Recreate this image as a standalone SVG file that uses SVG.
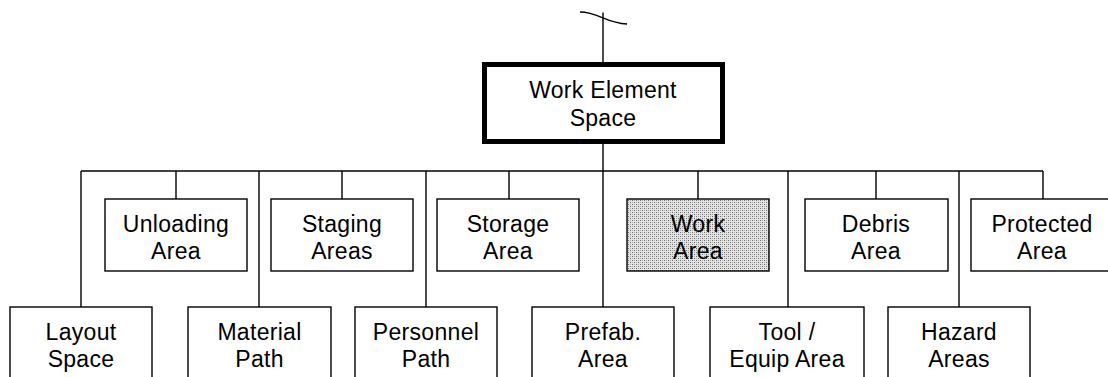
<svg xmlns="http://www.w3.org/2000/svg" width="1108" height="377" viewBox="0 0 1108 377">
  <defs>
    <pattern id="stipple" width="4" height="4" patternUnits="userSpaceOnUse">
      <rect width="4" height="4" fill="#e4e4e4"/>
      <rect x="0" y="0" width="1" height="1" fill="#6a6a6a"/>
      <rect x="2" y="2" width="1" height="1" fill="#6a6a6a"/>
      <rect x="2" y="0" width="1" height="1" fill="#b0b0b0"/>
      <rect x="0" y="2" width="1" height="1" fill="#b0b0b0"/>
    </pattern>
  </defs>
  <style>
    .box { fill: #ffffff; stroke: #000000; stroke-width: 1.4; }
    .root { fill: #ffffff; stroke: #000000; stroke-width: 5; }
    .shaded { fill: url(#stipple); stroke: #000000; stroke-width: 1.4; }
    .wire { fill: none; stroke: #000000; stroke-width: 1.4; }
    text { font-family: "Liberation Sans", Arial, sans-serif; font-size: 23px; fill: #000000; text-anchor: middle; letter-spacing: 0.3px; }
  </style>
  <rect width="1108" height="377" fill="#ffffff"/>

  <!-- connectors -->
  <g id="connectors" class="wire">
    <path d="M580,12 C598,12 606,23 627,24"/>
    <path d="M603,12.5 V62"/>
    <path d="M603,144 V171"/>
    <path d="M81,171 H1043"/>
    <path d="M176,171 V199 M342,171 V199 M509,171 V199 M698,171 V199 M876,171 V199 M1043,171 V199"/>
    <path d="M81,171 V307 M259,171 V307 M426,171 V307 M603,171 V307 M788,171 V307 M959,171 V307"/>
  </g>

  <!-- root -->
  <g id="work-element-space">
    <rect class="root" x="484.5" y="64.5" width="238" height="77"/>
    <text x="603" y="98">Work Element</text>
    <text x="603" y="126">Space</text>
  </g>

  <!-- upper row -->
  <g id="unloading-area">
    <rect class="box" x="105" y="199" width="142" height="72"/>
    <text x="176" y="232">Unloading</text>
    <text x="176" y="259">Area</text>
  </g>
  <g id="staging-areas">
    <rect class="box" x="271" y="199" width="142" height="72"/>
    <text x="342" y="232">Staging</text>
    <text x="342" y="259">Areas</text>
  </g>
  <g id="storage-area">
    <rect class="box" x="437" y="199" width="142" height="72"/>
    <text x="508" y="232">Storage</text>
    <text x="508" y="259">Area</text>
  </g>
  <g id="work-area">
    <rect class="shaded" x="627" y="199" width="142" height="72"/>
    <text x="698" y="232">Work</text>
    <text x="698" y="259">Area</text>
  </g>
  <g id="debris-area">
    <rect class="box" x="805" y="199" width="143" height="72"/>
    <text x="876" y="232">Debris</text>
    <text x="876" y="259">Area</text>
  </g>
  <g id="protected-area">
    <rect class="box" x="971" y="199" width="150" height="72"/>
    <text x="1042" y="232">Protected</text>
    <text x="1042" y="259">Area</text>
  </g>

  <!-- lower row -->
  <g id="layout-space">
    <rect class="box" x="10" y="307" width="142" height="90"/>
    <text x="81" y="340">Layout</text>
    <text x="81" y="367">Space</text>
  </g>
  <g id="material-path">
    <rect class="box" x="188" y="307" width="143" height="90"/>
    <text x="259.5" y="340">Material</text>
    <text x="259.5" y="367">Path</text>
  </g>
  <g id="personnel-path">
    <rect class="box" x="355" y="307" width="142" height="90"/>
    <text x="426" y="340">Personnel</text>
    <text x="426" y="367">Path</text>
  </g>
  <g id="prefab-area">
    <rect class="box" x="532" y="307" width="142" height="90"/>
    <text x="603" y="340">Prefab.</text>
    <text x="603" y="367">Area</text>
  </g>
  <g id="tool-equip-area">
    <rect class="box" x="710" y="307" width="154" height="90"/>
    <text x="787" y="340">Tool /</text>
    <text x="787" y="367">Equip Area</text>
  </g>
  <g id="hazard-areas">
    <rect class="box" x="888" y="307" width="142" height="90"/>
    <text x="959" y="340">Hazard</text>
    <text x="959" y="367">Areas</text>
  </g>
</svg>
